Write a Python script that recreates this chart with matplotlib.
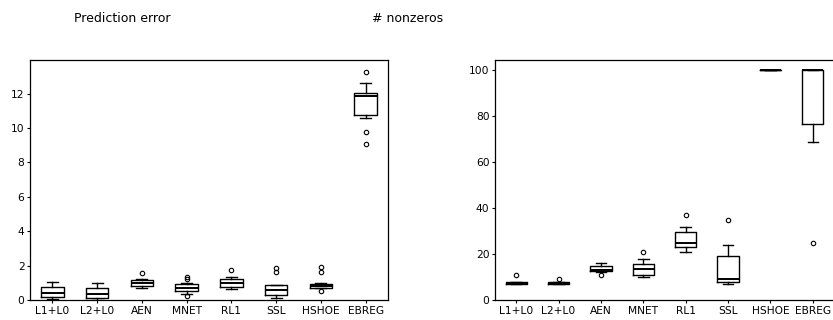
import matplotlib
matplotlib.use("Agg")
import matplotlib.pyplot as plt

methods = ["L1+L0", "L2+L0", "AEN", "MNET", "RL1", "SSL", "HSHOE", "EBREG"]

# prediction error: box summaries per method
err_med = [0.43, 0.35, 1.00, 0.68, 1.00, 0.58, 0.83, 11.86]
err_q1 = [0.15, 0.10, 0.81, 0.54, 0.77, 0.27, 0.72, 10.78]
err_q3 = [0.77, 0.68, 1.16, 0.91, 1.24, 0.87, 0.93, 12.04]
err_lo = [0.03, 0.02, 0.68, 0.33, 0.62, 0.10, 0.68, 10.60]
err_hi = [1.03, 0.97, 1.20, 1.00, 1.35, 0.90, 0.97, 12.62]
err_fliers = [[], [], [1.59], [1.33, 1.20, 0.23], [1.72], [1.84, 1.65],
              [1.90, 1.65, 0.50], [13.26, 9.77, 9.06]]

# number of nonzero coefficients
nz_med = [7.5, 7.5, 13, 13.5, 25, 9, 100, 100]
nz_q1 = [7, 7, 12.75, 11, 23, 8, 100, 76.5]
nz_q3 = [8, 8, 15, 15.5, 29.5, 19, 100, 100]
nz_lo = [7, 7, 12, 10, 21, 7, 100, 69]
nz_hi = [8, 8, 16, 18, 32, 24, 100, 100]
nz_fliers = [[11], [9], [11], [21], [37], [35], [], [25]]


def make_stats(med, q1, q3, lo, hi, fliers):
    return [dict(label=m, med=a, q1=b, q3=c, whislo=d, whishi=e, fliers=f)
            for m, a, b, c, d, e, f in zip(methods, med, q1, q3, lo, hi, fliers)]


W, H = 833, 320
fig = plt.figure(figsize=(W / 100, H / 100), dpi=100)
ax1 = fig.add_axes([30 / W, 20 / H, 358 / W, 240 / H])
ax2 = fig.add_axes([495 / W, 20 / H, 339 / W, 240 / H])

line = dict(color="black", linewidth=1.0)
for ax, stats, top, ticks in [
    (ax1, make_stats(err_med, err_q1, err_q3, err_lo, err_hi, err_fliers), 13.95, range(0, 13, 2)),
    (ax2, make_stats(nz_med, nz_q1, nz_q3, nz_lo, nz_hi, nz_fliers), 104.5, range(0, 101, 20)),
]:
    ax.bxp(stats, widths=0.5, boxprops=line, whiskerprops=line, capprops=line,
           medianprops=dict(color="black", linewidth=1.4),
           flierprops=dict(marker="o", markersize=3.2, markerfacecolor="none",
                           markeredgecolor="black", markeredgewidth=0.8))
    ax.set_xlim(0.5, 8.5)
    ax.set_ylim(0, top)
    ax.set_yticks(list(ticks))
    ax.tick_params(labelsize=7.7, length=2.5, width=0.8, pad=1.5)
    for s in ax.spines.values():
        s.set_linewidth(0.9)

title_font = dict(family="DejaVu Sans", fontsize=9, ha="center", va="center")
fig.text(122 / W, 1 - 19 / H, "Prediction error", **title_font)
fig.text(408 / W, 1 - 19 / H, "# nonzeros", **title_font)

fig.savefig("out.png", dpi=100)
